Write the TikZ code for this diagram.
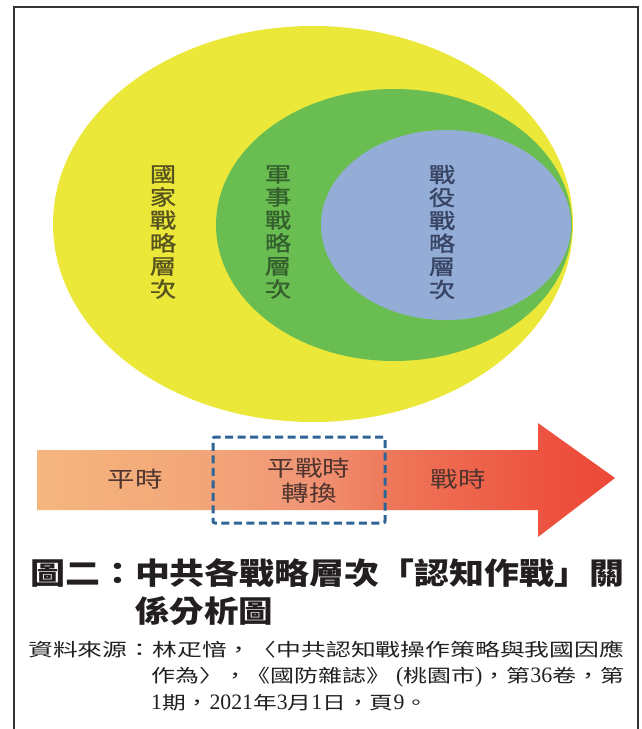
\documentclass[tikz,border=0pt]{standalone}
\usepackage{fontspec}
\usepackage{graphicx}
\newfontfamily\cjk[FakeStretch=1.25]{Noto Sans CJK TC}
\newfontfamily\cjkv[FakeStretch=1.25, FakeBold=1.2]{Noto Sans CJK TC}
\newfontfamily\cjkplain{Noto Sans CJK TC}
\newfontfamily\latf[FakeStretch=0.75]{Liberation Serif}
\newcommand\latx[1]{{\latf\fontsize{22}{25}\selectfont #1}}
\newcommand\fitw[2]{\resizebox{#1}{\height}{#2}}
\definecolor{yel}{RGB}{236,232,58}
\definecolor{grn}{RGB}{106,189,80}
\definecolor{blu}{RGB}{147,173,214}
\definecolor{tyel}{RGB}{88,84,32}
\definecolor{tgrn}{RGB}{52,96,46}
\definecolor{tblu}{RGB}{56,68,100}
\definecolor{arA}{RGB}{245,182,126}
\definecolor{arB}{RGB}{242,165,120}
\definecolor{arC}{RGB}{240,150,118}
\definecolor{arD}{RGB}{238,118,88}
\definecolor{arE}{RGB}{237,85,65}
\definecolor{arF}{RGB}{237,72,55}
\definecolor{dashblue}{RGB}{47,100,151}
\definecolor{artext}{RGB}{80,52,46}
\definecolor{ink}{RGB}{35,31,32}
\pgfdeclarehorizontalshading{arrowshade}{100bp}{color(0bp)=(arA); color(25bp)=(arA); color(40bp)=(arB); color(48bp)=(arC); color(56bp)=(arD); color(68bp)=(arE); color(75bp)=(arF); color(100bp)=(arF)}
\tikzset{
  vlabel/.style={align=center, inner sep=0pt, font=\cjkv\fontsize{21}{23}\selectfont},
  arlabel/.style={align=center, inner sep=0pt, text=artext, font=\cjk\fontsize{22}{25}\selectfont},
  transbox/.style={draw=dashblue, line width=3pt, dash pattern=on 8pt off 4.5pt, rounded corners=2pt, minimum width=172pt, minimum height=86pt, inner sep=0pt},
  titleline/.style={anchor=west, inner sep=0pt, text=ink, font=\cjkplain\bfseries\fontsize{30}{34}\selectfont},
  srcline/.style={anchor=west, inner sep=0pt, text=ink, font=\cjkplain\fontsize{18}{22}\selectfont}
}
\begin{document}
\begin{tikzpicture}[x=1pt, y=-1pt]
\useasboundingbox (0,0) rectangle (641,729);
\fill[white] (0,0) rectangle (641,729);
% frame
\draw[line width=2.2pt, black!80] (14,729) -- (14,7) -- (638,7) -- (638,729);
% nested ellipses
\fill[yel] (313,224) ellipse [x radius=260pt, y radius=198pt];
\fill[grn] (394,225) ellipse [x radius=178pt, y radius=136pt];
\fill[blu] (446,225) ellipse [x radius=125pt, y radius=95pt];
\node[vlabel, text=tyel] (national) at (163,232) {國\\家\\戰\\略\\層\\次};
\node[vlabel, text=tgrn] (military) at (278,232) {軍\\事\\戰\\略\\層\\次};
\node[vlabel, text=tblu] (campaign) at (442,232) {戰\\役\\戰\\略\\層\\次};
% arrow
\shade[shading=arrowshade] (37,450) -- (538,450) -- (538,423) -- (615,478) -- (538,537) -- (538,510) -- (37,510) -- cycle;
\node[transbox] (trans) at (299,480) {};
\node[arlabel] (peace) at (135,479) {平時};
\node[arlabel] (switch) at (309,481) {平戰時\\轉換};
\node[arlabel] (war) at (458,479) {戰時};
% title
\node[titleline] (title1) at (30,573) {\fitw{594pt}{圖二：中共各戰略層次「認知作戰」關}};
\node[titleline] (title2) at (135,611) {\fitw{138pt}{係分析圖}};
% source
\node[srcline] (src1) at (28,650) {\fitw{596pt}{資料來源：林疋愔，〈中共認知戰操作策略與我國因應}};
\node[srcline] (src2) at (151,677) {\fitw{473pt}{作為〉，《國防雜誌》\latx{ (}桃園市\latx{)}，第\latx{36}卷，第}};
\node[srcline] (src3) at (151,703) {\fitw{277pt}{\latx{1}期，\latx{2021}年\latx{3}月\latx{1}日，頁\latx{9}。}};
\end{tikzpicture}
\end{document}
